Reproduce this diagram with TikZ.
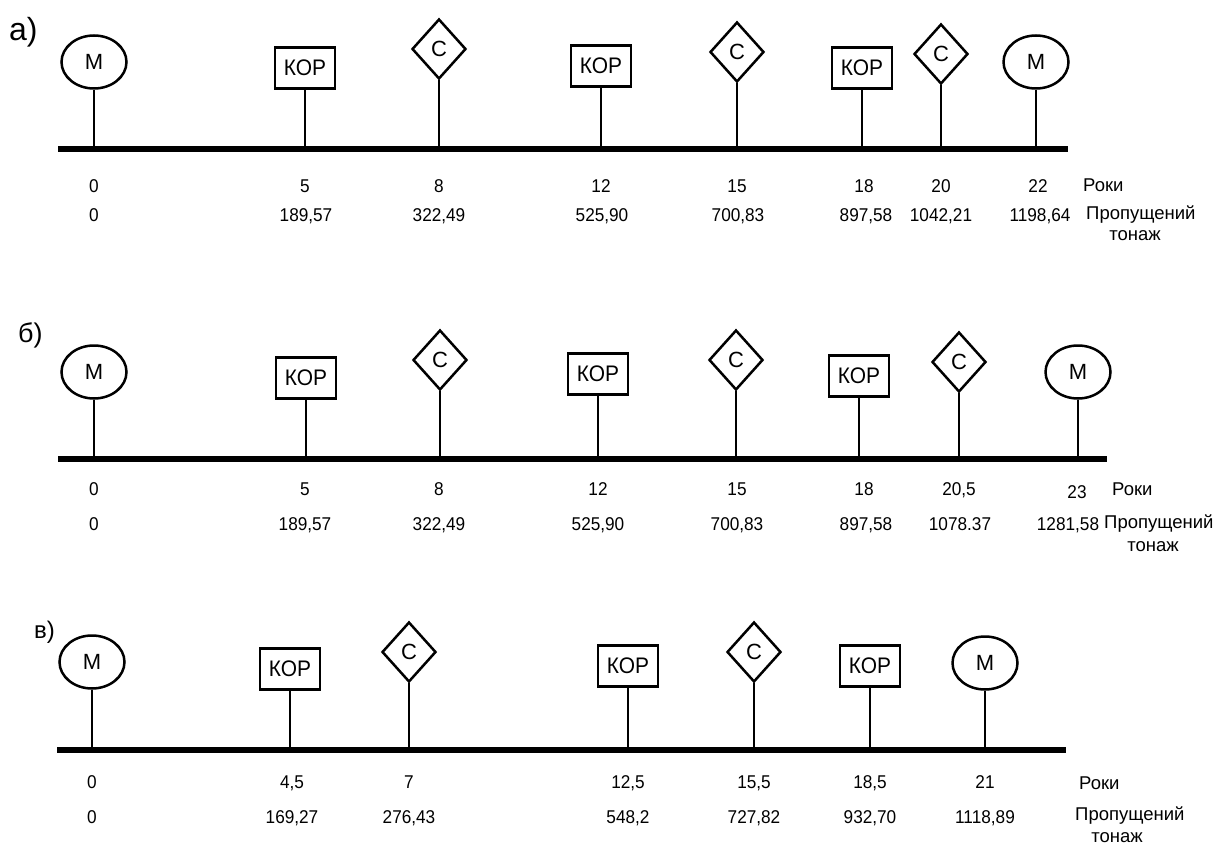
\documentclass[tikz,border=0pt]{standalone}
\usepackage{fontspec}
\setmainfont{Liberation Sans}
\newfontfamily\condfont{Liberation Sans}[FakeStretch=0.93]
\usetikzlibrary{shapes.geometric}
\begin{document}
\begin{tikzpicture}[x=1pt,y=-1pt,
  shp/.style={draw, line width=2.5pt, inner sep=0pt, font=\fontsize{22}{22}\selectfont},
  mnode/.style={shp, ellipse, minimum width=65pt, minimum height=53pt, node contents={М}},
  korbox/.style={shp, rectangle, line width=2.8pt, minimum width=60pt, minimum height=41pt, font=\condfont\fontsize{22.5}{22.5}\selectfont, node contents={КОР}},
  cdiam/.style={shp, diamond, minimum width=54pt, minimum height=60pt, node contents={С}},
  stem/.style={line width=2.5pt},
  axisline/.style={line width=6.5pt},
  num/.style={font=\condfont\fontsize{18.5}{18.5}\selectfont, inner sep=0pt, anchor=base},
  word/.style={font=\fontsize{18.5}{18.5}\selectfont, inner sep=0pt, anchor=base west},
  wordc/.style={font=\fontsize{18.5}{18.5}\selectfont, inner sep=0pt, anchor=base},
  plabel/.style={inner sep=0pt, anchor=base west}
]
\useasboundingbox (0,0) rectangle (1228,845);

% ---------- panel a ----------
\node[plabel, font=\fontsize{32}{32}\selectfont] (la) at (9,41) {а)};
\coordinate (a0) at (58,149);
\coordinate (a1) at (1068,149);
\draw[axisline] (a0) -- (a1);
\foreach \t/\x/\y [count=\i] in {mnode/94/62, korbox/305/68, cdiam/439/49, korbox/601/66, cdiam/737/52, korbox/862/68, cdiam/941/54, mnode/1036/62} {
  \node (a\i) at (\x,\y) [\t];
  \draw[stem] (a\i.south) -- (a\i.south |- a0);
}
\foreach \x/\t [count=\i] in {94/0, 305/5, 439/8, 601/12, 737/15, 864/18, 941/20, 1038/22}
  \node[num] (ay\i) at (\x,193) {\t};
\node[word] (aroki) at (1083,192) {Роки};
\foreach \x/\t [count=\i] in {94/0, 306/{189,57}, 439/{322,49}, 602/{525,90}, 738/{700,83}, 866/{897,58}, 941/{1042,21}, 1040/{1198,64}}
  \node[num] (at\i) at (\x,221) {\t};
\node[word] (aprop) at (1086,219) {Пропущений};
\node[wordc] (aton) at (1135,240) {тонаж};

% ---------- panel b ----------
\node[plabel, font=\fontsize{27}{27}\selectfont] (lb) at (18,342) {б)};
\coordinate (b0) at (58,459);
\coordinate (b1) at (1107,459);
\draw[axisline] (b0) -- (b1);
\foreach \t/\x/\y [count=\i] in {mnode/94/372, korbox/306/378, cdiam/440/360, korbox/598/374, cdiam/736/360, korbox/859/376, cdiam/959/362, mnode/1078/372} {
  \node (b\i) at (\x,\y) [\t];
  \draw[stem] (b\i.south) -- (b\i.south |- b0);
}
\foreach \x/\t [count=\i] in {94/0, 305/5, 439/8, 598/12, 737/15, 864/18, 959/{20,5}}
  \node[num] (by\i) at (\x,495) {\t};
\node[num] (by8) at (1077,498) {23};
\node[word] (broki) at (1112,495) {Роки};
\foreach \x/\t [count=\i] in {94/0, 305/{189,57}, 439/{322,49}, 598/{525,90}, 737/{700,83}, 866/{897,58}, 960/{1078.37}, 1068/{1281,58}}
  \node[num] (bt\i) at (\x,530) {\t};
\node[word] (bprop) at (1104,528) {Пропущений};
\node[wordc] (bton) at (1153,551) {тонаж};

% ---------- panel c ----------
\node[plabel, font=\fontsize{24}{24}\selectfont] (lc) at (34,638) {в)};
\coordinate (c0) at (57,750);
\coordinate (c1) at (1066,750);
\draw[axisline] (c0) -- (c1);
\foreach \t/\x/\y [count=\i] in {mnode/92/662, korbox/290/669, cdiam/409/652, korbox/628/666, cdiam/754/652, korbox/870/666, mnode/985/663} {
  \node (c\i) at (\x,\y) [\t];
  \draw[stem] (c\i.south) -- (c\i.south |- c0);
}
\foreach \x/\t [count=\i] in {92/0, 292/{4,5}, 409/7, 628/{12,5}, 754/{15,5}, 870/{18,5}, 985/21}
  \node[num] (cy\i) at (\x,788) {\t};
\node[word] (croki) at (1079,789) {Роки};
\foreach \x/\t [count=\i] in {92/0, 292/{169,27}, 409/{276,43}, 628/{548,2}, 754/{727,82}, 870/{932,70}, 985/{1118,89}}
  \node[num] (ct\i) at (\x,823) {\t};
\node[word] (cprop) at (1075,820) {Пропущений};
\node[wordc] (cton) at (1117,842) {тонаж};
\end{tikzpicture}
\end{document}
